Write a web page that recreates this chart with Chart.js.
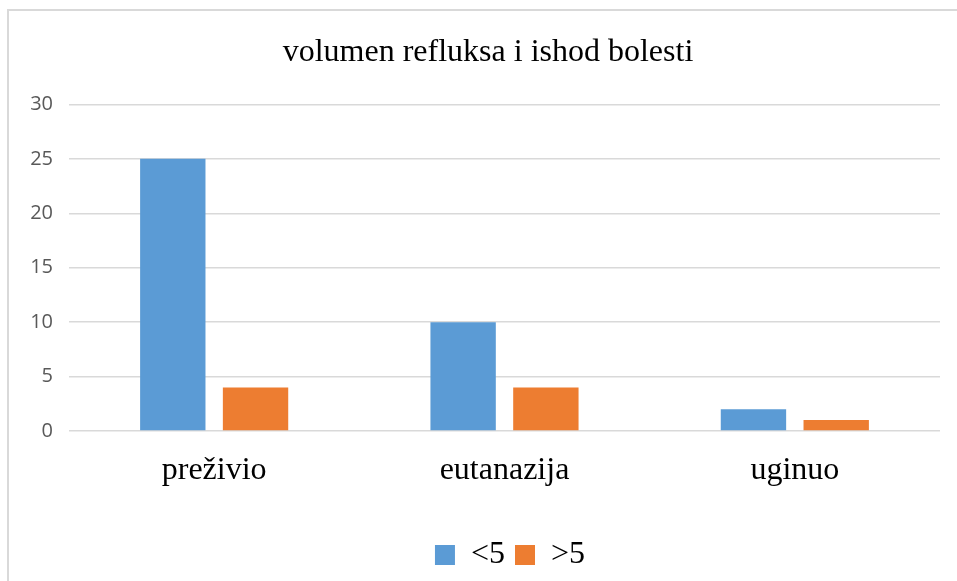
<!DOCTYPE html>
<html>
<head>
<meta charset="utf-8">
<script src="https://cdn.jsdelivr.net/npm/chart.js@4"></script>
<style>
html,body{margin:0;padding:0;background:#fff;width:957px;height:581px;overflow:hidden;}
#frame{position:absolute;left:7px;top:9px;width:1000px;height:1000px;border:2px solid #d9d9d9;box-sizing:border-box;}
#wrap{position:absolute;left:0;top:0;width:957px;height:581px;}
</style>
</head>
<body>
<div id="frame"></div>
<div id="wrap"><canvas id="c" width="957" height="581"></canvas></div>
<script>
const categories = ["preživio", "eutanazija", "uginuo"];
const seriesNames = ["<5", ">5"];
const seriesLess5 = [25, 10, 2];
const seriesMore5 = [4, 4, 1];
const yTicks = [0, 5, 10, 15, 20, 25, 30];
const titleText = "volumen refluksa i ishod bolesti";

const serif = "'Liberation Serif', 'Times New Roman', serif";

const shiftBoxes = {
  id: 'shiftBoxes',
  afterLayout(chart) {
    if (chart.legend) { chart.legend.left += 40; chart.legend.right += 40; }
    if (chart.titleBlock) { chart.titleBlock.left += 18; chart.titleBlock.right += 18; }
  }
};

new Chart(document.getElementById('c'), {
  type: 'bar',
  data: {
    labels: categories,
    datasets: [
      { label: seriesNames[0], data: seriesLess5, backgroundColor: '#5B9BD5', categoryPercentage: 0.57, barPercentage: 0.79 },
      { label: seriesNames[1], data: seriesMore5, backgroundColor: '#ED7D31', categoryPercentage: 0.57, barPercentage: 0.79 }
    ]
  },
  plugins: [shiftBoxes],
  options: {
    responsive: false,
    animation: false,
    layout: { padding: { left: 0, right: 17, top: 0, bottom: 0 } },
    plugins: {
      title: {
        display: true, text: titleText, color: '#000',
        font: { family: serif, size: 32, weight: 'normal' },
        padding: { top: 33, bottom: 33 }
      },
      legend: {
        position: 'bottom',
        labels: {
          color: '#000', font: { family: serif, size: 32 },
          boxWidth: 20, boxHeight: 20, padding: 10
        }
      },
      tooltip: { enabled: false }
    },
    scales: {
      x: {
        grid: { display: false, drawTicks: false },
        border: { display: false },
        ticks: { color: '#000', font: { family: serif, size: 32 }, padding: 20 },
        afterFit: s => { s.height = 98; }
      },
      y: {
        min: 0, max: 30,
        afterBuildTicks: s => { s.ticks = yTicks.map(v => ({ value: v })); },
        grid: { color: '#d9d9d9', lineWidth: 1.5, drawTicks: false },
        border: { display: false },
        ticks: { color: '#595959', font: { family: "'Open Sans', sans-serif", size: 20 }, padding: 16 },
        afterFit: s => { s.width = 69; }
      }
    }
  }
});
</script>
</body>
</html>
